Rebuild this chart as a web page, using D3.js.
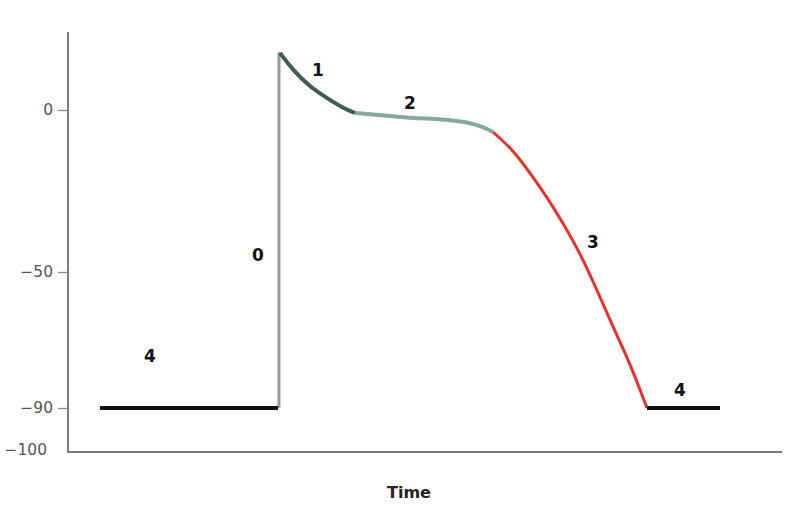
<!DOCTYPE html>
<html><head><meta charset="utf-8">
<script src="https://cdn.jsdelivr.net/npm/d3@7"></script>
<style>html,body{margin:0;padding:0;background:#fff;}</style>
</head><body>
<svg id="chart" width="800" height="525"></svg>
<script>
// Data: time (arbitrary units) and membrane voltage (mV) for each phase
const phase4aTime = [16, 105];
const phase4aVolt = [-90, -90];
const phase0Time = [105.5, 105.5];
const phase0Volt = [-90, 17.8];
const phase1Time = [106, 112.5, 121, 129.5, 137.5, 143.5];
const phase1Volt = [17.6, 12.3, 7.1, 3.7, 0.6, -0.9];
const phase2Time = [143.5, 154.5, 171, 187.5, 199.5, 207.5, 212.5];
const phase2Volt = [-0.9, -1.5, -2.5, -2.8, -3.7, -5.2, -6.8];
const phase3Time = [212.5, 222.5, 231, 239.5, 247.5, 256, 264.5, 272.5, 281, 289.5];
const phase3Volt = [-6.8, -12.3, -19.4, -26.9, -34.9, -44.1, -55.3, -66.2, -76.8, -90];
const phase4bTime = [289.5, 326];
const phase4bVolt = [-90, -90];
const yTickValues = [0, -50, -90, -100];
const phaseNames = ["4", "0", "1", "2", "3", "4"];
const phaseLabelTime = [41, 95, 125, 171, 262.5, 306];
const phaseLabelVolt = [-75, -45, 12, 2, -41, -85];

const svg = d3.select("#chart");
const x = d3.scaleLinear().domain([0, 357]).range([68, 782]);
const y = d3.scaleLinear().domain([-100, -90, -50, 0, 25]).range([450, 408, 272, 110, 29]);

// axes
svg.append("line").attr("x1", 68).attr("x2", 68).attr("y1", 32).attr("y2", 453)
  .attr("stroke", "#7a7a7a").attr("stroke-width", 2);
svg.append("line").attr("x1", 67).attr("x2", x(357)).attr("y1", 452).attr("y2", 452)
  .attr("stroke", "#7a7a7a").attr("stroke-width", 2);

const yAxis = d3.axisLeft(y).tickValues(yTickValues).tickSize(10).tickPadding(7)
  .tickFormat(d3.format("d"));
const gy = svg.append("g").attr("transform", "translate(68,0)").call(yAxis);
gy.select(".domain").remove();
gy.selectAll(".tick line").attr("stroke", "#888").attr("stroke-width", 1.3)
  .attr("opacity", d => d === -100 ? 0 : 1);
gy.selectAll(".tick text").attr("fill", "#555").attr("font-family", "DejaVu Sans")
  .attr("font-size", 15.5)
  .attr("dx", d => d === -100 ? -4 : 2);

const line = d3.line().x(d => x(d[0])).y(d => y(d[1])).curve(d3.curveBasis);
const segs = [
  [phase4aTime, phase4aVolt, "#111", 4],
  [phase1Time, phase1Volt, "#3e5d55", 4],
  [phase2Time, phase2Volt, "#86a8a1", 4],
  [phase3Time, phase3Volt, "#e5322b", 3],
  [phase4bTime, phase4bVolt, "#111", 4]
];
// phase 0 vertical
svg.append("path").datum(d3.zip(phase0Time, phase0Volt))
  .attr("d", d3.line().x(d => x(d[0])).y(d => y(d[1])))
  .attr("fill", "none").attr("stroke", "#9a9a9a").attr("stroke-width", 3);
segs.forEach(s => {
  svg.append("path").datum(d3.zip(s[0], s[1]))
    .attr("d", line).attr("fill", "none").attr("stroke", s[2])
    .attr("stroke-width", s[3]).attr("stroke-linecap", "butt");
});

// phase labels
svg.selectAll(".plabel").data(phaseNames).enter().append("text")
  .attr("x", (d, i) => x(phaseLabelTime[i]))
  .attr("y", (d, i) => y(phaseLabelVolt[i]))
  .attr("text-anchor", "middle").attr("dominant-baseline", "middle")
  .attr("font-family", "DejaVu Sans").attr("font-weight", "bold")
  .attr("font-size", 17).attr("fill", "#111").text(d => d);

svg.append("text").attr("x", 409).attr("y", 498).attr("text-anchor", "middle")
  .attr("font-family", "DejaVu Sans").attr("font-weight", "bold").attr("font-size", 16)
  .attr("fill", "#222").text("Time");
</script>
</body></html>
